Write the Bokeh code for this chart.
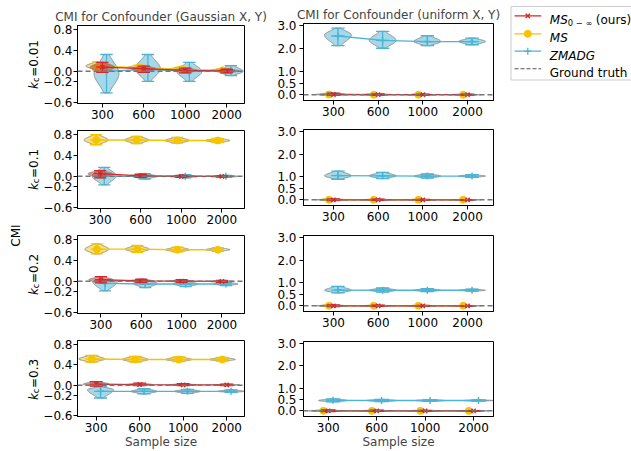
import numpy as np
from math import pi
from bokeh.plotting import figure
from bokeh.models import Range1d, FixedTicker, Span, AllLabels
from bokeh.layouts import row, column
from bokeh.embed import file_html
from bokeh.resources import INLINE
from bokeh.core.properties import value

# ---------------- data ----------------
SAMPLE_SIZES = ["300", "600", "1000", "2000"]
KC_VALUES = ["0.01", "0.1", "0.2", "0.3"]
COLUMN_TITLES = ["CMI for Confounder (Gaussian X, Y)", "CMI for Confounder (uniform X, Y)"]
Y_LABEL = "CMI"
X_LABEL = "Sample size"
GROUND_TRUTH = 0.0
LEFT_YTICKS = [-0.6, -0.2, 0.0, 0.4, 0.8]
RIGHT_YTICKS = [0.0, 0.5, 1.0, 2.0, 3.0]

# Gaussian X, Y (left column); rows: k_c = 0.01, 0.1, 0.2, 0.3; columns: sample sizes
G_MS0_MEAN = [[0.08, 0.05, 0.02, 0.01], [0.05, 0.01, 0.00, 0.00], [0.03, 0.01, 0.005, 0.00], [0.02, 0.01, 0.005, 0.005]]
G_MS0_MIN = [[-0.02, -0.02, -0.03, -0.03], [-0.03, -0.02, -0.02, -0.015], [-0.03, -0.02, -0.02, -0.02], [-0.02, -0.01, -0.01, -0.01]]
G_MS0_MAX = [[0.17, 0.10, 0.06, 0.04], [0.11, 0.04, 0.02, 0.015], [0.09, 0.04, 0.03, 0.02], [0.07, 0.04, 0.03, 0.02]]
G_MS_MEAN = [[0.10, 0.07, 0.04, 0.02], [0.69, 0.69, 0.68, 0.68], [0.61, 0.61, 0.60, 0.60], [0.51, 0.50, 0.50, 0.50]]
G_MS_MIN = [[0.03, 0.03, 0.01, 0.00], [0.60, 0.62, 0.63, 0.64], [0.52, 0.55, 0.56, 0.57], [0.45, 0.45, 0.46, 0.47]]
G_MS_MAX = [[0.18, 0.12, 0.08, 0.05], [0.79, 0.76, 0.74, 0.72], [0.71, 0.68, 0.65, 0.64], [0.58, 0.56, 0.55, 0.54]]
G_ZM_MEAN = [[0.00, 0.04, 0.00, 0.01], [0.00, 0.00, 0.00, 0.00], [-0.04, -0.05, -0.05, -0.05], [-0.12, -0.12, -0.12, -0.12]]
G_ZM_MIN = [[-0.41, -0.19, -0.19, -0.08], [-0.16, -0.05, -0.03, -0.02], [-0.18, -0.12, -0.10, -0.08], [-0.25, -0.17, -0.16, -0.14]]
G_ZM_MAX = [[0.32, 0.32, 0.17, 0.11], [0.17, 0.05, 0.03, 0.02], [0.03, 0.01, 0.00, -0.02], [-0.03, -0.07, -0.08, -0.09]]
G_ZM_PEAK = [[-0.04, 0.05, 0.00, 0.00], [0.01, 0.00, 0.00, 0.00], [-0.01, -0.04, -0.05, -0.05], [-0.09, -0.12, -0.12, -0.12]]

# uniform X, Y (right column)
U_MS0_MEAN = [[0.01, 0.005, 0.00, 0.00], [0.00, 0.00, 0.00, 0.00], [0.00, 0.00, 0.00, 0.00], [0.00, 0.00, 0.00, 0.00]]
U_MS0_MIN = [[-0.03, -0.02, -0.02, -0.02], [-0.03, -0.02, -0.02, -0.01], [-0.03, -0.02, -0.02, -0.01], [-0.03, -0.02, -0.02, -0.01]]
U_MS0_MAX = [[0.07, 0.04, 0.03, 0.02], [0.04, 0.03, 0.02, 0.01], [0.04, 0.03, 0.02, 0.01], [0.04, 0.03, 0.02, 0.01]]
U_MS_MEAN = [[0.01, 0.00, 0.00, 0.00], [0.00, 0.00, 0.00, 0.00], [0.00, 0.00, 0.00, 0.00], [0.00, 0.00, 0.00, 0.00]]
U_MS_MIN = [[-0.02, -0.02, -0.02, -0.01], [-0.02, -0.02, -0.01, -0.01], [-0.02, -0.02, -0.01, -0.01], [-0.02, -0.02, -0.01, -0.01]]
U_MS_MAX = [[0.06, 0.03, 0.02, 0.02], [0.03, 0.02, 0.02, 0.01], [0.03, 0.02, 0.02, 0.01], [0.03, 0.02, 0.02, 0.01]]
U_ZM_MEAN = [[2.54, 2.35, 2.30, 2.30], [1.06, 1.05, 1.04, 1.04], [0.69, 0.68, 0.68, 0.68], [0.47, 0.46, 0.46, 0.46]]
U_ZM_MIN = [[2.12, 2.01, 2.12, 2.16], [0.90, 0.93, 0.95, 0.98], [0.57, 0.60, 0.62, 0.64], [0.40, 0.41, 0.42, 0.43]]
U_ZM_MAX = [[2.88, 2.74, 2.55, 2.45], [1.26, 1.20, 1.13, 1.10], [0.85, 0.78, 0.75, 0.73], [0.53, 0.51, 0.50, 0.49]]
U_ZM_PEAK = [[2.58, 2.35, 2.30, 2.30], [1.05, 1.05, 1.04, 1.04], [0.68, 0.68, 0.68, 0.68], [0.46, 0.46, 0.46, 0.46]]

# ---------------- styles / layout ----------------
RED = "#d62728"
GOLD = "#f5c400"
BLUE = "#4cb4d4"
EDGE = "#8a8a8a"
GT_COLOR = "#767676"
FONT = "DejaVu Sans"
FS = "12px"
VIOLIN_WIDTH = 0.6

METHODS = [  # draw order: ZMADG (bottom), MS, MS0 (top)
    dict(key="ZM", color=BLUE, offset=0.1, marker="cross", msize=7),
    dict(key="MS", color=GOLD, offset=-0.1, marker="circle", msize=7),
    dict(key="MS0", color=RED, offset=0.0, marker="x", msize=6),
]
DATA = {
    0: {"MS0": (G_MS0_MEAN, G_MS0_MIN, G_MS0_MAX, None), "MS": (G_MS_MEAN, G_MS_MIN, G_MS_MAX, None),
        "ZM": (G_ZM_MEAN, G_ZM_MIN, G_ZM_MAX, G_ZM_PEAK)},
    1: {"MS0": (U_MS0_MEAN, U_MS0_MIN, U_MS0_MAX, None), "MS": (U_MS_MEAN, U_MS_MIN, U_MS_MAX, None),
        "ZM": (U_ZM_MEAN, U_ZM_MIN, U_ZM_MAX, U_ZM_PEAK)},
}

LAB_W = 40
LEFT_W, RIGHT_W = 234, 226
LEFT_BORDER_LR = (34, 30)
RIGHT_BORDER_LR = (28, 7)
LEFT_H = [124, 105, 105, 117]
LEFT_T = [25, 6, 6, 6]
LEFT_B = [21, 21, 21, 33]
RIGHT_H = [121, 105, 106, 119]
RIGHT_T = [23, 8, 9, 9]
RIGHT_B = [21, 21, 21, 34]
LEFT_XLIM = [(-0.60, 3.43), (-0.56, 3.56), (-0.58, 3.56), (-0.43, 3.41)]
RIGHT_XLIM = [(-0.67, 3.58), (-0.67, 3.58), (-0.67, 3.58), (-0.51, 3.41)]
LEFT_YLIM = (-0.61, 0.87)
RIGHT_YLIM = (-0.25, 3.08)


def fmt(v):
    return f"{v:.1f}".replace("-", "\u2212")


def violin_poly(pos, lo, hi, peak, halfw, k=1.75, n=48):
    ys = np.linspace(lo, hi, n)
    s_lo = max(peak - lo, 1e-4) / k
    s_hi = max(hi - peak, 1e-4) / k
    s = np.where(ys < peak, s_lo, s_hi)
    w = halfw * np.exp(-0.5 * ((ys - peak) / s) ** 2)
    xs = np.concatenate([pos - w, (pos + w)[::-1]])
    yy = np.concatenate([ys, ys[::-1]])
    return xs.tolist(), yy.tolist()


def style_axes(p, yticks, ystandoff):
    p.xaxis.ticker = FixedTicker(ticks=list(range(len(SAMPLE_SIZES))))
    p.xaxis.major_label_overrides = {i: s for i, s in enumerate(SAMPLE_SIZES)}
    p.yaxis.ticker = FixedTicker(ticks=yticks)
    p.yaxis.major_label_overrides = {v: fmt(v) for v in yticks}
    for ax in list(p.xaxis) + list(p.yaxis):
        ax.major_tick_out = 4
        ax.major_tick_in = 0
        ax.minor_tick_out = 0
        ax.minor_tick_in = 0
        ax.axis_line_color = "black"
        ax.major_tick_line_color = "black"
        ax.major_label_text_font = FONT
        ax.major_label_text_font_size = FS
        ax.major_label_text_color = "black"
        ax.major_label_policy = AllLabels()
    p.xaxis.major_label_standoff = 2
    p.yaxis.major_label_standoff = ystandoff
    p.xgrid.visible = False
    p.ygrid.visible = False
    p.outline_line_color = "black"
    p.outline_line_alpha = 1.0


def make_panel(col, r):
    if col == 0:
        w, h, (bl, br), t, b = LEFT_W, LEFT_H[r], LEFT_BORDER_LR, LEFT_T[r], LEFT_B[r]
        xlim, ylim, yticks, yso = LEFT_XLIM[r], LEFT_YLIM, LEFT_YTICKS, 1
    else:
        w, h, (bl, br), t, b = RIGHT_W, RIGHT_H[r], RIGHT_BORDER_LR, RIGHT_T[r], RIGHT_B[r]
        xlim, ylim, yticks, yso = RIGHT_XLIM[r], RIGHT_YLIM, RIGHT_YTICKS, 3
    p = figure(width=w, height=h, x_range=Range1d(*xlim), y_range=Range1d(*ylim),
               output_backend="svg", toolbar_location=None,
               min_border_left=bl, min_border_right=br, min_border_top=t, min_border_bottom=b)
    style_axes(p, yticks, yso)
    if r == 0:
        p.title.text = COLUMN_TITLES[col]
        p.title.align = "center"
        p.title.text_font = FONT
        p.title.text_font_size = FS
        p.title.text_font_style = "normal"
        p.title.standoff = 3
    if r == 3:
        p.xaxis.axis_label = X_LABEL
        p.xaxis.axis_label_text_font = FONT
        p.xaxis.axis_label_text_font_size = FS
        p.xaxis.axis_label_text_font_style = "normal"
        p.xaxis.axis_label_standoff = 0

    halfw = VIOLIN_WIDTH / 2
    cap = VIOLIN_WIDTH / 4
    for m in METHODS:
        mean_a, min_a, max_a, peak_a = DATA[col][m["key"]]
        mean, lo, hi = mean_a[r], min_a[r], max_a[r]
        peak = peak_a[r] if peak_a is not None else mean
        pos = [i + m["offset"] for i in range(len(SAMPLE_SIZES))]
        xs, ys = [], []
        for i in range(len(pos)):
            vx, vy = violin_poly(pos[i], lo[i], hi[i], peak[i], halfw)
            xs.append(vx)
            ys.append(vy)
        p.patches(xs=xs, ys=ys, fill_color=m["color"], fill_alpha=0.5,
                  line_color=EDGE, line_width=1, line_alpha=0.9)
        # extrema bars, caps and mean bars
        x0 = pos + [q - cap for q in pos] * 3
        x1 = pos + [q + cap for q in pos] * 3
        y0 = lo + lo + hi + mean
        y1 = hi + lo + hi + mean
        p.segment(x0=x0, y0=y0, x1=x1, y1=y1, line_color=m["color"], line_width=1.3)
        p.line(x=pos, y=mean, line_color=m["color"], line_width=1.3)
        if m["marker"] == "circle":
            p.scatter(x=pos, y=mean, marker="circle", size=m["msize"], fill_color=m["color"],
                      line_color=m["color"])
        else:
            p.scatter(x=pos, y=mean, marker=m["marker"], size=m["msize"], line_color=m["color"],
                      line_width=1.5)
    p.add_layout(Span(location=GROUND_TRUTH, dimension="width", line_color=GT_COLOR,
                      line_dash="5 3", line_width=1.5))
    return p


# ---------------- label column (CMI + k_c row labels) ----------------
TOTAL_H = 451
lab = figure(width=LAB_W, height=TOTAL_H, x_range=Range1d(0, LAB_W), y_range=Range1d(0, TOTAL_H),
             output_backend="svg", toolbar_location=None, min_border=0,
             x_axis_type=None, y_axis_type=None, outline_line_color=None)
lab.grid.visible = False
lab.text(x=[15], y=[TOTAL_H - 235], text=[Y_LABEL], angle=pi / 2, text_align="center",
         text_baseline="alphabetic", text_font=value(FONT), text_font_size=FS, text_color="black")

CHAR_W = {"=": 0.838, ".": 0.318}
row_centers = []
acc = 0
for r in range(4):
    row_centers.append(acc + LEFT_T[r] + (LEFT_H[r] - LEFT_T[r] - LEFT_B[r]) / 2)
    acc += LEFT_H[r]
MAIN_BASE_X = 33.5
SUB_BASE_X = 35.5
for r, kc in enumerate(KC_VALUES):
    rest = "=" + kc
    w_k = 0.579 * 12
    w_c = 0.55 * 8.4 + 0.5
    w_rest = sum(CHAR_W.get(ch, 0.636) for ch in rest) * 12
    start = row_centers[r] + (w_k + w_c + w_rest) / 2  # pixel y of bottom end
    lab.text(x=[MAIN_BASE_X], y=[TOTAL_H - start], text=["k"], angle=pi / 2, text_align="left",
             text_baseline="alphabetic", text_font=value(FONT), text_font_size=FS,
             text_font_style="italic", text_color="black")
    lab.text(x=[SUB_BASE_X], y=[TOTAL_H - (start - w_k)], text=["c"], angle=pi / 2,
             text_align="left", text_baseline="alphabetic", text_font=value(FONT),
             text_font_size="8.4px", text_color="black")
    lab.text(x=[MAIN_BASE_X], y=[TOTAL_H - (start - w_k - w_c)], text=[rest], angle=pi / 2,
             text_align="left", text_baseline="alphabetic", text_font=value(FONT),
             text_font_size=FS, text_color="black")

# ---------------- legend column ----------------
leg = figure(width=131, height=TOTAL_H, x_range=Range1d(0, 131), y_range=Range1d(TOTAL_H, 0),
             output_backend="svg", toolbar_location=None, min_border=0,
             x_axis_type=None, y_axis_type=None, outline_line_color=None)
leg.grid.visible = False
leg.quad(left=[10.5], right=[140], top=[6], bottom=[79.5], fill_color="white", fill_alpha=0.8,
         line_color="#cccccc", line_width=1)
LEG_Y = [15.3, 33.3, 50.7, 68.3]
LX = [14, 40.7]
MX = 27.3
TX = 49.3
leg.line(x=LX, y=[LEG_Y[0]] * 2, line_color=RED, line_width=1.3)
leg.scatter(x=[MX], y=[LEG_Y[0]], marker="x", size=6, line_color=RED, line_width=1.5)
leg.line(x=LX, y=[LEG_Y[1]] * 2, line_color=GOLD, line_width=1.3)
leg.scatter(x=[MX], y=[LEG_Y[1]], marker="circle", size=7, fill_color=GOLD, line_color=GOLD)
leg.line(x=LX, y=[LEG_Y[2]] * 2, line_color=BLUE, line_width=1.3)
leg.scatter(x=[MX], y=[LEG_Y[2]], marker="cross", size=7, line_color=BLUE, line_width=1.3)
leg.line(x=LX, y=[LEG_Y[3]] * 2, line_color="#555555", line_width=1.1, line_dash="4 2")


def ltext(x, y, s, size=FS, style="normal"):
    leg.text(x=[x], y=[y], text=[s], text_align="left", text_baseline="alphabetic",
             text_font=value(FONT), text_font_size=size, text_font_style=style, text_color="black")


BL = 4.3
ltext(TX, LEG_Y[0] + BL, "MS", style="italic")
ltext(TX + 18.0, LEG_Y[0] + BL + 2.6, "0 \u2212 \u221e", size="8.4px")
ltext(TX + 18.0 + 24.0 + 4.0, LEG_Y[0] + BL, "(ours)")
ltext(TX, LEG_Y[1] + BL, "MS", style="italic")
ltext(TX, LEG_Y[2] + BL, "ZMADG", style="italic")
ltext(TX, LEG_Y[3] + BL, "Ground truth")

# ---------------- assemble ----------------
left_col = column(*[make_panel(0, r) for r in range(4)])
right_col = column(*[make_panel(1, r) for r in range(4)])
layout = row(lab, left_col, right_col, leg)

open("out.html", "w").write(file_html(layout, INLINE))
